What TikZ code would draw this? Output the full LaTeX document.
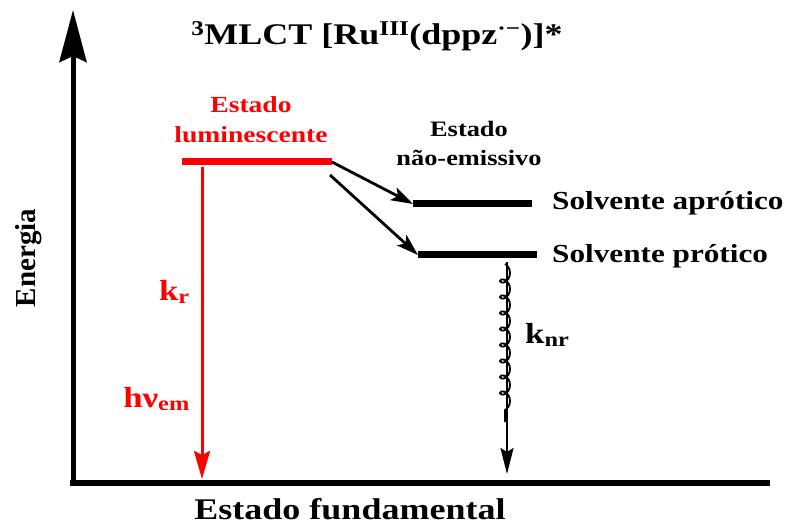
\documentclass[tikz,border=0pt]{standalone}
\usepackage{fontspec}
\setmainfont{Liberation Serif}[FakeStretch=1.2]
\newfontfamily\plainserif{Liberation Serif}
\usetikzlibrary{arrows.meta,decorations.pathmorphing}
\newcommand{\fsz}[1]{\fontsize{#1}{1.25\dimexpr#1pt\relax}\selectfont}
\begin{document}
\begin{tikzpicture}[x=1pt,y=-1pt,font=\bfseries,
  level/.style={line width=7pt},
  trans/.style={line width=2.8pt,-{Stealth[length=22pt,width=14pt,inset=5pt]}},
  lbl/.style={inner sep=0pt}]
\useasboundingbox (0,0) rectangle (786,526);
% axes
\coordinate (orig) at (73,483);
\coordinate (ytip) at (73,10);
\coordinate (xend) at (770,483);
\draw[line width=5pt,-{Stealth[length=52pt,width=27pt,inset=6pt]}] (orig) -- (ytip);
\draw[line width=6.5pt] (70,483) -- (xend);
% levels
\coordinate (lumL) at (182,162);
\coordinate (lumR) at (332,162);
\coordinate (aproL) at (413,204);
\coordinate (aproR) at (532,204);
\coordinate (protL) at (418,255);
\coordinate (protR) at (537,255);
\draw[level,red] (lumL) -- (lumR);
\draw[level] (aproL) -- (aproR);
\draw[level] (protL) -- (protR);
% transitions
\coordinate (lumdrop) at (330,175);
\draw[trans] (lumR) -- (aproL);
\draw[trans] (lumdrop) -- (protL);
\coordinate (emtop) at (202,167);
\coordinate (embot) at (202,479);
\draw[red,line width=3pt,-{Stealth[length=28pt,width=16pt,inset=4pt]}] (emtop) -- (embot);
\coordinate (nrtop) at (507,262);
\coordinate (nrbot) at (507,474);
\draw[line width=2.2pt,-{Stealth[length=26pt,width=13pt,inset=4pt]}] (nrtop) -- (nrbot);
\draw[line width=1.8pt,decorate,decoration={coil,amplitude=5pt,segment length=16pt,aspect=1}] (505,264) -- (505,422);
% labels
\node[lbl,anchor=base] (title) at (377,45) {\fsz{30}\textsuperscript{3}MLCT [Ru\textsuperscript{III}(dppz\textsuperscript{·−})]*};
\node[lbl,red,anchor=north,align=center,font=\bfseries\fontsize{23}{30}\selectfont] (lumtxt) at (251,96) {Estado\\luminescente};
\node[lbl,anchor=north,align=center,font=\bfseries\fontsize{22}{29}\selectfont] (nemtxt) at (469,121) {Estado\\não-emissivo};
\node[lbl,anchor=base west] (aprotxt) at (552,210) {\fsz{26}Solvente aprótico};
\node[lbl,anchor=base west] (prottxt) at (552,262) {\fsz{26}Solvente prótico};
\node[lbl,anchor=base] (fundtxt) at (350,519) {\fsz{30}Estado fundamental};
\node[lbl,rotate=90] (energia) at (29,258) {\plainserif\fsz{29}Energia};
\node[lbl,red,anchor=base east] (kr) at (190,300) {\fsz{29}k\textsubscript{r}};
\node[lbl,red,anchor=base east] (hnu) at (190,407) {\fsz{29}hν\textsubscript{em}};
\node[lbl,anchor=base west] (knr) at (525,343) {\fsz{29}k\textsubscript{nr}};
\end{tikzpicture}
\end{document}
